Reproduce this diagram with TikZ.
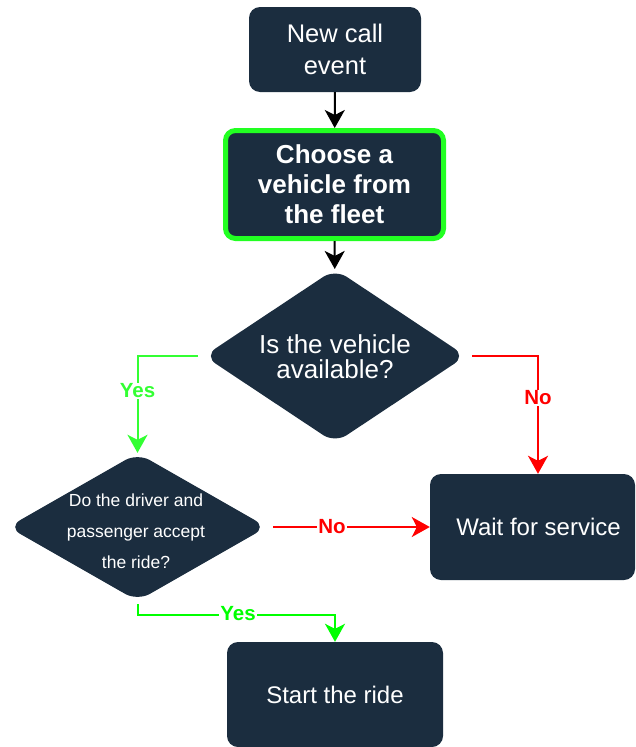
\documentclass[tikz,border=0pt]{standalone}
\usepackage{fontspec}
\setmainfont{Liberation Sans}
\usetikzlibrary{shapes.geometric,arrows.meta}
\definecolor{navy}{HTML}{1B2D3F}
\definecolor{yesA}{HTML}{33FF33}
\definecolor{yesB}{HTML}{00FF00}
\definecolor{noRed}{HTML}{FF0000}
\definecolor{pickGreen}{HTML}{22FF22}
\begin{document}
\begin{tikzpicture}[x=1pt,y=-1pt,
  box/.style={fill=navy, rounded corners=11pt, text=white, align=center, inner sep=0pt},
  dia/.style={diamond, fill=navy, rounded corners=14pt, inner sep=0pt},
  dtext/.style={text=white, align=center, inner sep=0pt},
  lbl/.style={fill=white, inner sep=1pt, font=\bfseries\fontsize{20.5}{20}\selectfont},
  flow/.style={line width=2pt, -{Stealth[length=18pt,width=20pt,inset=5pt]}}
]
\useasboundingbox (0,0) rectangle (636,747);

% process boxes
\node[box, minimum width=172pt, minimum height=85pt, font=\fontsize{25.5}{32}\selectfont]
  (call) at (335,49.5) {New call\\event};
\node[box, draw=pickGreen, line width=5pt, rounded corners=10pt, minimum width=218pt, minimum height=108pt,
  font=\bfseries\fontsize{26}{30}\selectfont]
  (choose) at (334.5,184.5) {Choose a\\vehicle from\\the fleet};
\node[box, minimum width=205pt, minimum height=106pt] (wait) at (532.5,527) {};
\node[dtext, font=\fontsize{24}{28}\selectfont] (waittext) at (538.5,527) {Wait for service};
\node[box, minimum width=216pt, minimum height=105pt, font=\fontsize{24}{28}\selectfont]
  (start) at (335,694.5) {Start the ride};

% decisions
\node[dia, minimum width=262pt, minimum height=174pt] (avail) at (335,356) {};
\node[dtext, font=\fontsize{26}{25}\selectfont] (availtext) at (335,357) {Is the vehicle\\available?};
\node[dia, minimum width=259pt, minimum height=148pt] (accept) at (137.5,527) {};
\node[dtext, font=\fontsize{17.5}{31}\selectfont] (accepttext) at (136,531)
  {Do the driver and\\passenger accept\\the ride?};

% connectors
\draw[flow] (call) -- (choose);
\draw[flow] (choose) -- (avail);
\draw[flow, yesA] ([xshift=-6pt]avail.west) -| (accept.north);
\draw[flow, noRed] ([xshift=6pt]avail.east) -| ([xshift=5.5pt]wait.north);
\draw[flow, noRed] ([xshift=6pt]accept.east) -- (wait.west);
\draw[flow, yesB] ([yshift=-3pt]accept.south) -- ++(0,11) -| (start.north);

% branch labels
\node[lbl, text=yesA] (yesleft) at (137.5,391) {Yes};
\node[lbl, text=noRed] (noright) at (538,398) {No};
\node[lbl, text=noRed] (nomid) at (332,527) {No};
\node[lbl, text=yesB] (yesbottom) at (238,614) {Yes};
\end{tikzpicture}
\end{document}
